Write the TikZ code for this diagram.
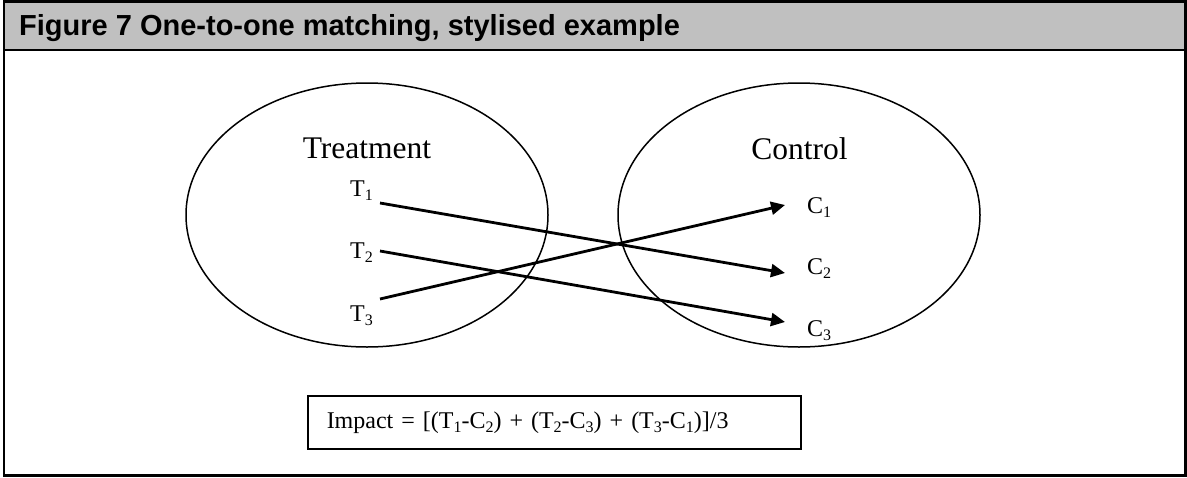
\documentclass[tikz,border=0pt]{standalone}
\usepackage{fontspec}
\setmainfont{Liberation Serif}
\newfontfamily\headfont{Liberation Sans}
\usetikzlibrary{arrows.meta,shapes.geometric}
\definecolor{headgray}{HTML}{C0C0C0}
\newcommand{\lowsub}[1]{\raisebox{-4pt}{\fontsize{16}{16}\selectfont #1}}
\tikzset{
  group/.style={ellipse, draw, line width=1.5pt, minimum width=362pt, minimum height=264pt, inner sep=0pt},
  grouptitle/.style={anchor=base, inner sep=0pt, font=\fontsize{31.5}{36}\selectfont},
  item/.style={anchor=base west, inner sep=0pt, font=\fontsize{24}{28}\selectfont},
  match/.style={line width=2.8pt, -{Triangle[length=14pt,width=13pt]}},
  formula/.style={draw, line width=1.5pt, anchor=north west, minimum width=493pt, minimum height=53pt,
    text width=455pt, inner xsep=19pt, align=left, font=\fontsize{24}{28}\selectfont},
}
\begin{document}
\begin{tikzpicture}[x=1pt,y=-1pt]
\useasboundingbox (0,0) rectangle (1187,477);
% frame and header
\fill[headgray] (4,1.5) rectangle (1185.5,49.5);
\draw[line width=2.5pt] (4,1.5) rectangle (1185.5,475.5);
\draw[line width=2pt] (4,49.5) -- (1185.5,49.5);
\node[anchor=base west, inner sep=0pt, font=\headfont\bfseries\fontsize{29}{33}\selectfont] (title) at (19,35)
  {Figure 7 One-to-one matching, stylised example};
% groups
\node[group] (treat) at (367,215) {};
\node[group] (ctrl) at (799,215) {};
\node[grouptitle] (treatlbl) at (367,158) {Treatment};
\node[grouptitle] (ctrllbl) at (799.5,159) {Control};
% items
\node[item] (t1) at (350,196.5) {T\lowsub{1}};
\node[item] (t2) at (350,258) {T\lowsub{2}};
\node[item] (t3) at (350,321) {T\lowsub{3}};
\node[item] (c1) at (807,213.5) {C\lowsub{1}};
\node[item] (c2) at (807,274.5) {C\lowsub{2}};
\node[item] (c3) at (807,336) {C\lowsub{3}};
% matches
\draw[match] ([xshift=30pt,yshift=-6.5pt]t1.base west) -- ([xshift=-22pt,yshift=1.5pt]c2.base west);
\draw[match] ([xshift=30pt,yshift=7pt]t2.base west) -- ([xshift=-22pt,yshift=14pt]c3.base west);
\draw[match] ([xshift=30pt,yshift=22pt]t3.base west) -- ([xshift=-22pt,yshift=8.5pt]c1.base west);
% formula
\node[formula] (impact) at (307,395)
  {Impact = [(T\lowsub{1}-C\lowsub{2}) + (T\lowsub{2}-C\lowsub{3}) + (T\lowsub{3}-C\lowsub{1})]/3};
\end{tikzpicture}
\end{document}
